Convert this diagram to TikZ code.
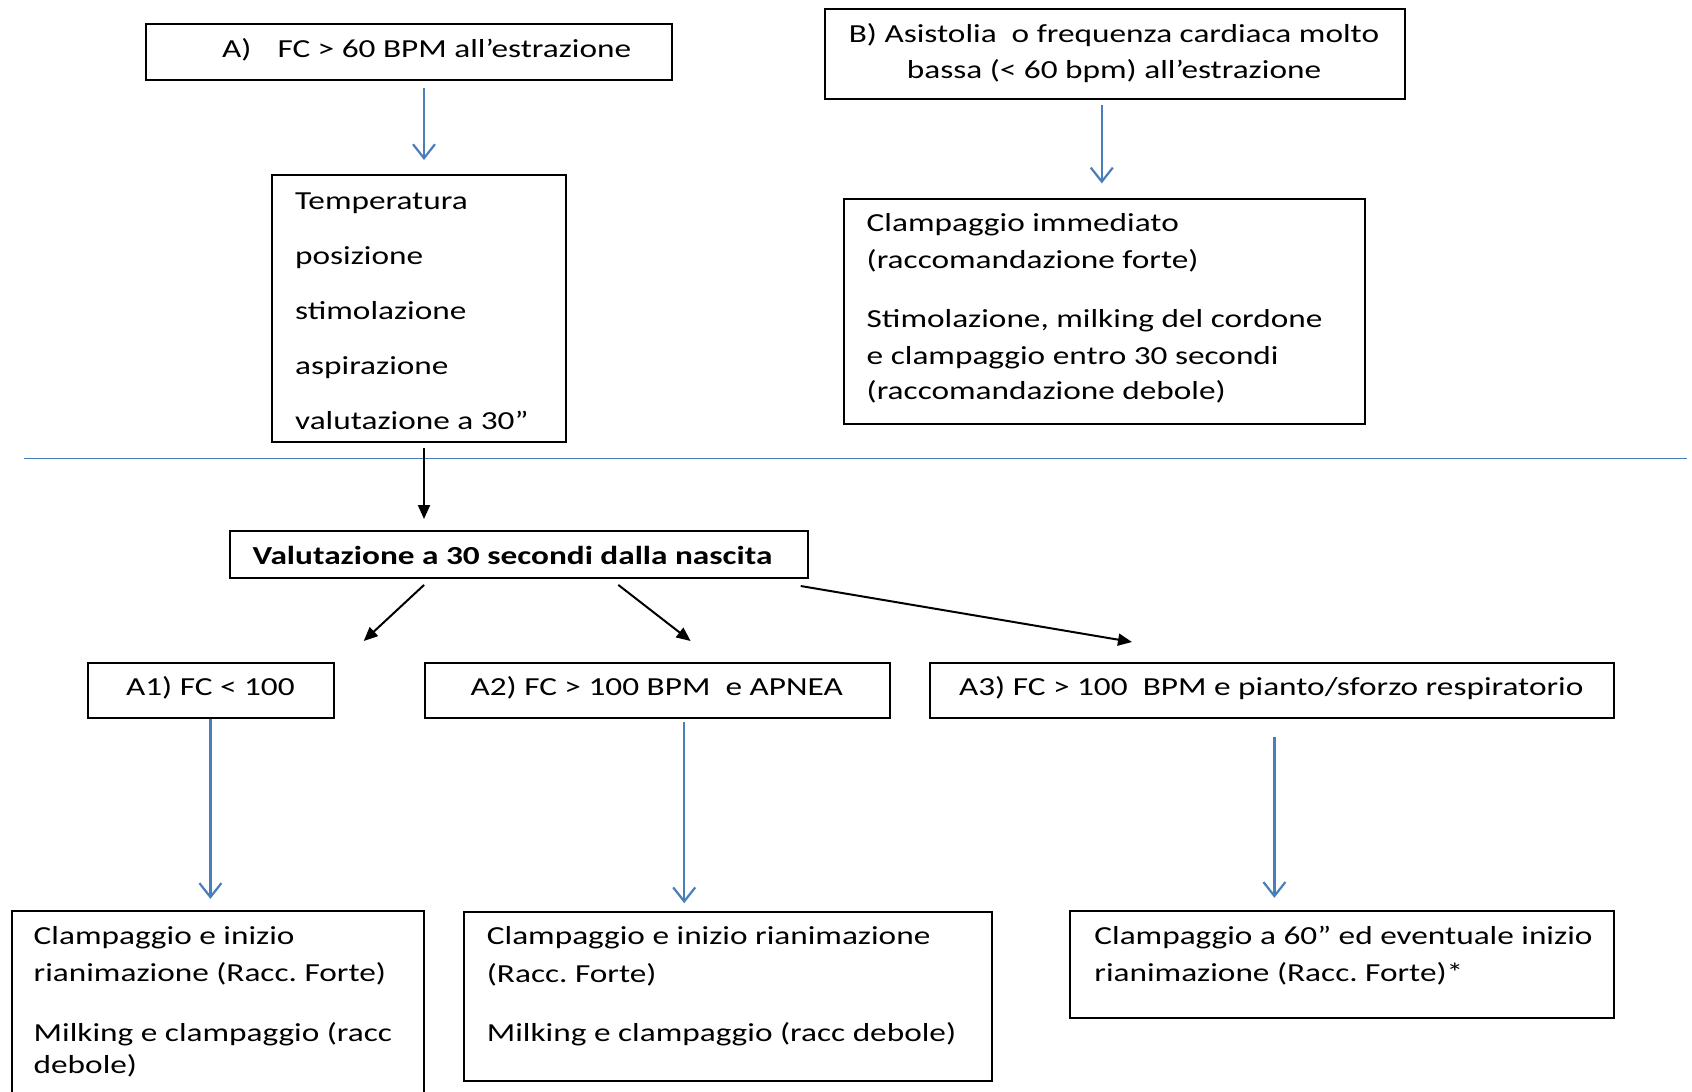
\documentclass[tikz,border=0pt]{standalone}
\usepackage{fontspec}
\setmainfont{Carlito}[FakeStretch=1.28]
\usetikzlibrary{arrows.meta}
\definecolor{wblue}{HTML}{4A7EBB}
\frenchspacing
\begin{document}
\begin{tikzpicture}[x=1pt,y=-1pt,
  box/.style={draw=black, line width=2pt, rectangle, inner sep=0pt, anchor=north west},
  txt/.style={anchor=base west, inner sep=0pt, font=\fontsize{26}{36.7}\selectfont},
  ctxt/.style={anchor=base, inner sep=0pt, font=\fontsize{26}{36.7}\selectfont},
  bluearr/.style={draw=wblue, line width=2.2pt, -{Straight Barb[length=14pt,width=22pt,line width=2.2pt]}},
  blackarr/.style={draw=black, line width=2pt, -{Triangle[length=14pt,width=12pt]}}]
\clip (0,0) rectangle (1692,1092);
\fill[white] (0,0) rectangle (1692,1092);
% boxes
\node[box, minimum width=526.6pt, minimum height=56.1pt] (A) at (144.6,22.7) {};
\node[box, minimum width=294.5pt, minimum height=267.7pt] (T) at (270.9,173.7) {};
\node[box, minimum width=579.5pt, minimum height=90.6pt] (B) at (824.4,7.6) {};
\node[box, minimum width=521.2pt, minimum height=225.5pt] (C) at (842.8,197.5) {};
\node[box, minimum width=578.4pt, minimum height=47.5pt] (V) at (228.8,529.8) {};
\node[box, minimum width=246pt, minimum height=55pt] (A1) at (87.4,661.5) {};
\node[box, minimum width=465.1pt, minimum height=55pt] (A2) at (424.1,661.5) {};
\node[box, minimum width=684.2pt, minimum height=55pt] (A3) at (929.1,661.5) {};
\node[box, minimum width=412.2pt, minimum height=200pt] (D1) at (10.8,909.7) {};
\node[box, minimum width=527.7pt, minimum height=169.4pt] (D2) at (462.9,910.8) {};
\node[box, minimum width=543.9pt, minimum height=106.8pt] (D3) at (1069.4,909.7) {};
% texts
\node[txt] (tA1) at (222,57) {A)};
\node[txt] (tA2) at (277.3,57) {FC > 60 BPM all’estrazione};
\node[txt] (tT1) at (295,209) {Temperatura};
\node[txt] (tT2) at (295,264) {posizione};
\node[txt] (tT3) at (295,319) {stimolazione};
\node[txt] (tT4) at (295,374) {aspirazione};
\node[txt] (tT5) at (295,429) {valutazione a 30”};
\node[ctxt] (tB1) at (1114,42.5) {B) Asistolia\ \ o frequenza cardiaca molto};
\node[ctxt] (tB2) at (1114,78.5) {bassa (< 60 bpm) all’estrazione};
\node[txt] (tC1) at (866.5,231.4) {Clampaggio immediato};
\node[txt] (tC2) at (866.5,268) {(raccomandazione forte)};
\node[txt] (tC3) at (866.5,327.4) {Stimolazione, milking del cordone};
\node[txt] (tC4) at (866.5,364) {e clampaggio entro 30 secondi};
\node[txt] (tC5) at (866.5,399.7) {(raccomandazione debole)};
\node[txt, font=\fontsize{26}{36.7}\selectfont\bfseries] (tV) at (252.5,564) {Valutazione a 30 secondi dalla nascita};
\node[ctxt] (tA1b) at (210.4,695.5) {A1) FC < 100};
\node[ctxt] (tA2b) at (656.6,695.5) {A2) FC > 100 BPM\ \ e APNEA};
\node[ctxt] (tA3b) at (1271.2,695.5) {A3) FC > 100\ \ BPM e pianto/sforzo respiratorio};
\node[txt] (tD11) at (33.5,944.7) {Clampaggio e inizio};
\node[txt] (tD12) at (33.5,981.4) {rianimazione (Racc. Forte)};
\node[txt] (tD13) at (33.5,1041.8) {Milking e clampaggio (racc};
\node[txt] (tD14) at (33.5,1073.1) {debole)};
\node[txt] (tD21) at (486.7,944.7) {Clampaggio e inizio rianimazione};
\node[txt] (tD22) at (486.7,982.4) {(Racc. Forte)};
\node[txt] (tD23) at (486.7,1041.8) {Milking e clampaggio (racc debole)};
\node[txt] (tD31) at (1094.2,944.7) {Clampaggio a 60” ed eventuale inizio};
\node[txt] (tD32) at (1094.2,981.4) {rianimazione (Racc. Forte)*};
% separator line
\draw[draw=wblue, line width=1.5pt] (23.7,458.6) -- (1686.7,458.6);
% connectors
\draw[bluearr, shorten <=7.2pt, shorten >=13.7pt] (A.south -| 424,0) -- (T.north -| 424,0);
\draw[bluearr, shorten <=4.3pt, shorten >=14.1pt] (B.south -| 1101.8,0) -- (C.north -| 1101.8,0);
\draw[blackarr, shorten <=4.3pt, shorten >=10.8pt] (T.south -| 424,0) -- (V.north -| 424,0);
\coordinate (s1) at (424.1,584.9);
\coordinate (e1) at (363.7,641);
\coordinate (s2) at (618.3,584.9);
\coordinate (e2) at (690.6,641);
\coordinate (s3) at (800.7,586);
\coordinate (e3) at (1132,642);
\draw[blackarr] (s1) -- (e1);
\draw[blackarr] (s2) -- (e2);
\draw[blackarr] (s3) -- (e3);
\draw[bluearr, shorten >=10.8pt] (A1.south -| 210.4,0) -- (D1.north -| 210.4,0);
\draw[bluearr, shorten <=3.3pt, shorten >=7.6pt] (A2.south -| 684.2,0) -- (D2.north -| 684.2,0);
\draw[bluearr, shorten <=18.4pt, shorten >=11.9pt] (A3.south -| 1274.4,0) -- (D3.north -| 1274.4,0);
\end{tikzpicture}
\end{document}
